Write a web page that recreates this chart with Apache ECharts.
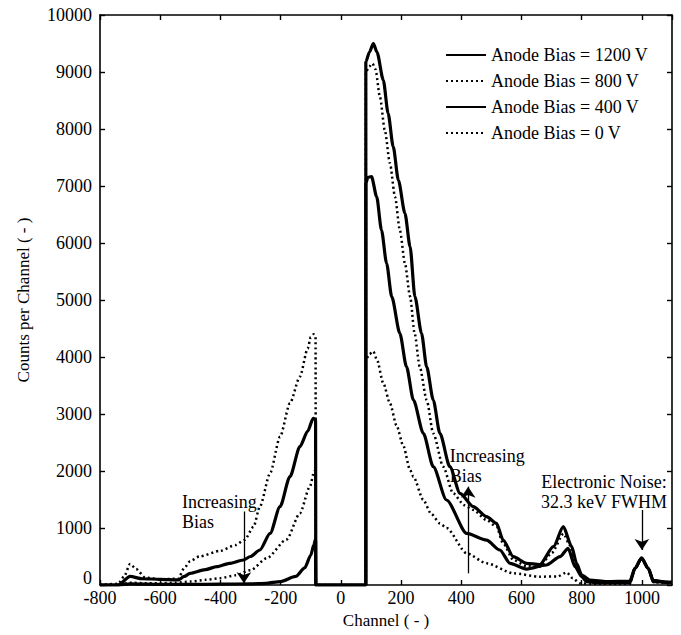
<!DOCTYPE html>
<html>
<head>
<meta charset="utf-8">
<script src="https://cdn.jsdelivr.net/npm/echarts@6/dist/echarts.min.js"></script>
<style>html,body{margin:0;padding:0;background:#fff}#c{width:681px;height:635px}</style>
</head>
<body>
<div id="c"></div>
<script>
// ---- data (channel, counts) ----
const seriesNames = ['Anode Bias = 1200 V', 'Anode Bias = 800 V', 'Anode Bias = 400 V', 'Anode Bias = 0 V'];

const bias1200 = [
  [-800,0],[-740,0],[-700,20],[-600,10],[-500,10],[-400,15],[-300,20],[-250,30],[-200,60],[-150,150],[-120,300],[-100,520],[-90,700],[-84,800],[-83,0],
  [83,0],[83,9180],[95,9350],[108,9500],[120,9350],[141,8860],[157,8275],[174,7690],[191,7105],[213,6520],[230,5935],[246,5060],[268,4415],[285,3830],[307,3246],[329,2661],[362,2076],[396,1608],[440,1374],[484,1198],[517,1082],[539,789],[573,497],[617,380],[661,360],[706,672],[739,1023],[767,672],[783,380],[800,175],[827,88],[883,60],[960,70],[977,292],[999,470],[1021,292],[1038,80],[1082,50],[1100,50]
];
const bias800 = [
  [-800,0],[-740,0],[-700,40],[-650,30],[-600,30],[-550,40],[-500,60],[-450,90],[-400,120],[-350,170],[-300,260],[-246,470],[-180,800],[-136,1257],[-103,1725],[-88,2000],[-84,2000],[-83,0],
  [83,0],[83,9000],[95,9100],[105,9150],[115,9050],[130,8560],[146,7980],[163,7400],[180,6810],[196,6230],[213,5640],[230,5060],[245,4415],[262,3830],[285,3246],[307,2661],[340,2076],[373,1608],[410,1400],[440,1316],[484,1140],[517,1023],[539,731],[573,439],[617,330],[661,320],[700,560],[740,900],[760,700],[783,330],[800,150],[830,60],[960,60],[977,292],[999,470],[1021,292],[1038,70],[1100,40]
];
const bias400 = [
  [-800,0],[-740,0],[-700,150],[-660,110],[-600,100],[-540,90],[-520,150],[-501,205],[-450,270],[-412,322],[-370,380],[-324,439],[-300,500],[-269,614],[-235,906],[-202,1374],[-169,1901],[-136,2427],[-110,2700],[-92,2924],[-84,2900],[-83,0],
  [83,0],[83,7050],[90,7150],[102,7164],[119,6813],[135,6228],[152,5643],[169,5059],[196,4415],[218,3830],[241,3246],[274,2661],[307,2076],[351,1491],[418,906],[484,789],[528,614],[562,380],[617,280],[683,351],[728,497],[755,643],[778,322],[800,146],[816,58],[850,40],[960,40],[977,292],[999,470],[1021,292],[1038,60],[1100,40]
];
const bias0 = [
  [-800,0],[-740,20],[-720,150],[-700,370],[-680,280],[-650,130],[-600,100],[-540,110],[-520,300],[-500,420],[-470,500],[-400,600],[-350,700],[-320,790],[-290,1020],[-269,1374],[-235,1960],[-202,2600],[-169,3190],[-136,3655],[-110,4150],[-100,4350],[-90,4400],[-84,4350],[-83,0],
  [83,0],[83,3950],[95,4050],[108,4100],[120,3950],[141,3540],[163,3190],[185,2800],[207,2450],[230,2018],[241,1900],[274,1491],[300,1250],[329,1082],[351,1000],[418,556],[484,380],[573,205],[661,146],[720,150],[750,220],[770,120],[794,30],[830,20],[960,20],[977,292],[999,470],[1021,292],[1038,50],[1100,20]
];

// axis ticks
const xMin = -800, xMax = 1100, xStep = 200;
const yMin = 0, yMax = 10000, yStep = 1000;

// annotations (data coordinates)
const arrows = [
  { from: [-322, 1290], to: [-322, 30] },
  { from: [423, 205], to: [423, 1725] },
  { from: [1000, 1316], to: [1000, 614] }
];
const notes = [
  { at: [-528, 1614], lines: ['Increasing', 'Bias'], align: 'left' },
  { at: [362, 2421], lines: ['Increasing', 'Bias'], align: 'left' },
  { at: [874, 1965], lines: ['Electronic Noise:', '32.3 keV FWHM'], align: 'center' }
];

const FONT = 'Liberation Serif';
const chart = echarts.init(document.getElementById('c'), null, { renderer: 'svg' });

const solid = { color: '#000', width: 3.2, type: 'solid' };
const dotted = { color: '#000', width: 2.5, type: [2, 3] };

function mkSeries(name, data, ls, extra) {
  return Object.assign({
    name, type: 'line', data, symbol: 'none', showSymbol: false,
    smooth: 0.25, smoothMonotone: 'x',
    lineStyle: ls, itemStyle: { color: '#000' }, animation: false, z: 3
  }, extra || {});
}

const axisCommon = {
  axisLine: { show: true, onZero: false, lineStyle: { color: '#000', width: 1.6 } },
  axisTick: { show: true, inside: true, length: 5, lineStyle: { color: '#000', width: 1.4 } },
  splitLine: { show: false }
};

chart.setOption({
  backgroundColor: '#fff',
  animation: false,
  grid: { left: 100, right: 9, top: 15, bottom: 50, containLabel: false },
  legend: {
    data: seriesNames,
    orient: 'vertical', left: 440, top: 41,
    itemWidth: 40, itemHeight: 14, itemGap: 8,
    itemStyle: { opacity: 0 },
    textStyle: { fontFamily: FONT, fontSize: 18, color: '#000', lineHeight: 18 },
    selectedMode: false
  },
  xAxis: [
    Object.assign({
      type: 'value', min: xMin, max: xMax, interval: xStep, position: 'bottom',
      name: 'Channel ( - )', nameLocation: 'middle', nameGap: 27,
      nameTextStyle: { fontFamily: FONT, fontSize: 17, color: '#000' },
      axisLabel: { fontFamily: FONT, fontSize: 18, color: '#000', margin: 4, showMaxLabel: false,
        formatter: v => String(v) }
    }, axisCommon),
    Object.assign({
      type: 'value', min: xMin, max: xMax, interval: xStep, position: 'top',
      axisLabel: { show: false }
    }, axisCommon)
  ],
  yAxis: [
    Object.assign({
      type: 'value', min: yMin, max: yMax, interval: yStep, position: 'left',
      name: 'Counts per Channel ( - )', nameLocation: 'middle', nameGap: 68,
      nameTextStyle: { fontFamily: FONT, fontSize: 17, color: '#000' },
      axisLabel: { fontFamily: FONT, fontSize: 18, color: '#000', margin: 8,
        formatter: v => v === 0 ? '{z|0}' : String(v),
        rich: { z: { fontFamily: FONT, fontSize: 18, color: '#000', padding: [0, 0, 14, 0] } } }
    }, axisCommon),
    Object.assign({
      type: 'value', min: yMin, max: yMax, interval: yStep, position: 'right',
      axisLabel: { show: false }
    }, axisCommon)
  ],
  series: [
    mkSeries(seriesNames[0], bias1200, solid, {
      markLine: {
        silent: true, animation: false,
        symbol: ['none', 'arrow'], symbolSize: 11,
        label: { show: false },
        lineStyle: { color: '#000', width: 1.3, type: 'solid' },
        data: arrows.map(a => [{ coord: a.from }, { coord: a.to }])
      }
    }),
    mkSeries(seriesNames[1], bias800, dotted),
    mkSeries(seriesNames[2], bias400, solid),
    mkSeries(seriesNames[3], bias0, dotted)
  ]
});

const graphics = [];
notes.forEach(n => {
  const p = chart.convertToPixel({ gridIndex: 0 }, n.at);
  n.lines.forEach((t, i) => {
    graphics.push({
      type: 'text', x: p[0], y: p[1] + i * 20, silent: true,
      style: { text: t, fontFamily: FONT, fontSize: 18, fill: '#000', textAlign: n.align, textVerticalAlign: 'top' }
    });
  });
});
chart.setOption({ graphic: graphics });
</script>
</body>
</html>
